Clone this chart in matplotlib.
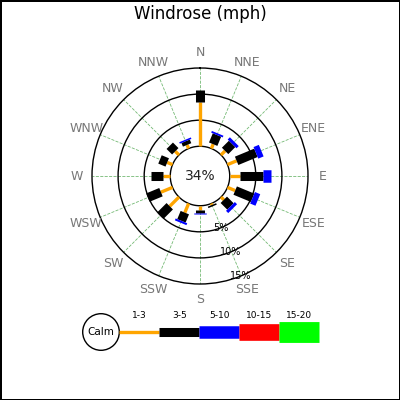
import numpy as np
import matplotlib
matplotlib.use("Agg")
import matplotlib.pyplot as plt
from matplotlib.patches import Circle

# direction names, clockwise from north
directions = ["N", "NNE", "NE", "ENE", "E", "ESE", "SE", "SSE",
              "S", "SSW", "SW", "WSW", "W", "WNW", "NW", "NNW"]
calm_pct = 34

# percent of observations per direction, per speed bin (mph)
bin_labels = ["1-3", "3-5", "5-10", "10-15", "15-20"]
bin_colors = ["orange", "black", "blue", "red", "lime"]
pct_1_3 = [8.5, 0.9, 1.1, 1.9, 2.0, 1.6, 0.75, 0.3,
           0.75, 1.9, 2.5, 2.4, 1.4, 1.1, 1.0, 0.75]
pct_3_5 = [2.3, 1.9, 1.9, 4.0, 4.4, 3.6, 1.8, 0.3,
           0.7, 1.7, 2.5, 2.7, 2.2, 1.5, 1.5, 0.75]
pct_5_10 = [0.0, 0.35, 0.6, 1.1, 1.5, 1.1, 0.6, 0.0,
            0.2, 0.4, 0.0, 0.0, 0.0, 0.0, 0.0, 0.3]
pct_10_15 = [0.0] * 16
pct_15_20 = [0.0] * 16
ring_pcts = [5, 10, 15]

bins = [pct_1_3, pct_3_5, pct_5_10, pct_10_15, pct_15_20]
bin_lw = [2.4, 6.5, 9.0, 12.0, 15.0]
calm_r = 5.7  # radius of the calm circle in percent units

fig = plt.figure(figsize=(4, 4), dpi=100, edgecolor="black", linewidth=1)
ax = fig.add_axes([0.23, 0.29, 0.54, 0.54], projection="polar")
ax.set_theta_zero_location("N")
ax.set_theta_direction(-1)
rmax = calm_r + ring_pcts[-1]
ax.set_ylim(0, rmax)

theta = np.deg2rad(np.arange(16) * 22.5)
ax.set_xticks(theta)
ax.set_xticklabels([])
ax.xaxis.grid(True, color="green", alpha=0.55, linestyle="--", linewidth=0.6)
# direction names just outside the rim
for th, name in zip(theta, directions):
    ax.text(th, rmax * 1.14, name, fontsize=9, color="#777777",
            ha="center", va="center", clip_on=False)

ax.set_yticks([calm_r + p for p in ring_pcts[:-1]])
ax.set_yticklabels([])
ax.yaxis.grid(True, color="black", linestyle="-", linewidth=1)
ax.spines["polar"].set_linewidth(1)

for p in ring_pcts:
    ax.text(np.deg2rad(158), calm_r + p, "%d%%" % p, fontsize=7,
            ha="center", va="center", zorder=6)

# stacked segments for every direction
for i, th in enumerate(theta):
    base = calm_r
    for vals, color, lw in zip(bins, bin_colors, bin_lw):
        v = vals[i]
        if v <= 0:
            continue
        ax.plot([th, th], [base, base + v], color=color, lw=lw,
                solid_capstyle="butt", zorder=4)
        base += v

# calm circle
circ = np.linspace(0, 2 * np.pi, 300)
ax.fill(circ, np.full_like(circ, calm_r), color="white", zorder=3)
ax.plot(circ, np.full_like(circ, calm_r), color="black", lw=1, zorder=3)
ax.text(0, 0, "%d%%" % calm_pct, ha="center", va="center", fontsize=10,
        color="#222222", zorder=5)

fig.text(0.5, 0.965, "Windrose (mph)", ha="center", va="center", fontsize=12)

# legend along the bottom, in pixel coordinates
lax = fig.add_axes([0, 0, 1, 1])
lax.set_xlim(0, 400)
lax.set_ylim(400, 0)
lax.axis("off")
lax.add_patch(Circle((101, 332), 18.3, facecolor="white", edgecolor="black", lw=1))
lax.text(101, 332, "Calm", ha="center", va="center", fontsize=7.5)
x0, step = 119.3, 40
for j, (lab, color, lw) in enumerate(zip(bin_labels, bin_colors, bin_lw)):
    xa = x0 + j * step
    lax.plot([xa, xa + step], [332, 332], color=color, lw=lw, solid_capstyle="butt")
    lax.text(xa + step / 2, 315, lab, ha="center", va="center", fontsize=6.5)

fig.savefig("out.png", dpi=100)
